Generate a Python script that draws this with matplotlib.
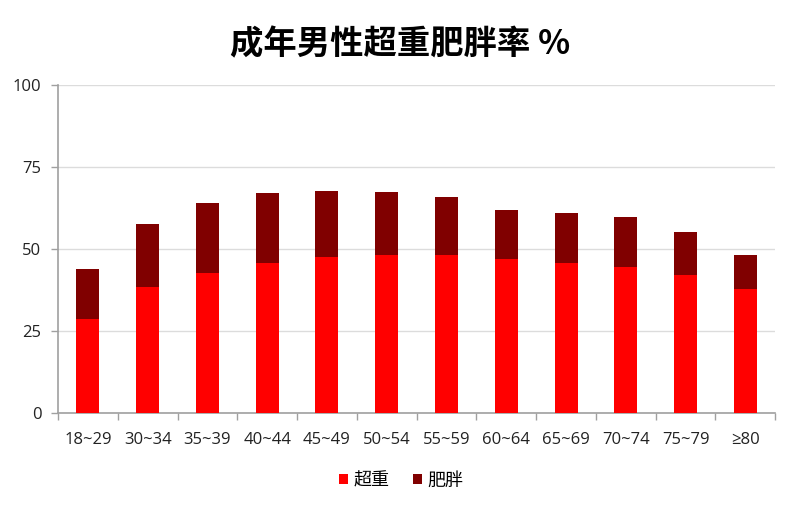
import numpy as np
import matplotlib
matplotlib.use("Agg")
import matplotlib.pyplot as plt
from matplotlib.patches import Patch

plt.rcParams['font.family'] = ['Noto Sans CJK SC', 'DejaVu Sans']

age_groups = ["18~29", "30~34", "35~39", "40~44", "45~49", "50~54",
              "55~59", "60~64", "65~69", "70~74", "75~79", "≥80"]
overweight = [28.6, 38.4, 42.7, 45.8, 47.6, 48.2, 48.2, 46.8, 45.8, 44.6, 42.1, 37.9]
obese = [15.2, 19.3, 21.3, 21.1, 20.1, 19.0, 17.6, 14.9, 15.1, 15.0, 13.0, 10.2]
yticks = [0, 25, 50, 75, 100]

red = "#ff0000"
dark = "#800000"
axis_gray = "#a0a0a0"
tick_font = ['Open Sans', 'DejaVu Sans']

fig = plt.figure(figsize=(8, 5.11), dpi=100)
ax = fig.add_axes([0.0725, 0.192, 0.8965, 0.642])

x = np.arange(len(age_groups))
w = 0.385
ax.bar(x, overweight, width=w, color=red, zorder=3)
ax.bar(x, obese, width=w, bottom=overweight, color=dark, zorder=3)

ax.set_xlim(-0.5, len(age_groups) - 0.5)
ax.set_ylim(0, 100)
ax.set_yticks(yticks)
ax.set_yticklabels([str(v) for v in yticks], fontsize=12, color="#222222",
                   family=tick_font)
ax.yaxis.grid(True, color="#dcdcdc", linewidth=1, zorder=0)

# category labels in the middle, tick marks on the boundaries
ax.set_xticks(x)
ax.set_xticklabels(age_groups, fontsize=12, color="#222222", family=tick_font)
ax.tick_params(axis='x', length=0, pad=14)
ax.set_xticks(np.arange(-0.5, len(age_groups)), minor=True)
ax.tick_params(axis='x', which='minor', length=5, color=axis_gray, width=1)
ax.tick_params(axis='y', length=5, color=axis_gray, width=1, pad=7)

for side in ['top', 'right']:
    ax.spines[side].set_visible(False)
for side in ['left', 'bottom']:
    ax.spines[side].set_color(axis_gray)
    ax.spines[side].set_linewidth(1.2)

fig.suptitle("成年男性超重肥胖率 %", fontsize=24, fontweight='bold', x=0.5, y=0.945)

handles = [Patch(facecolor=red, label="超重"), Patch(facecolor=dark, label="肥胖")]
fig.legend(handles=handles, loc='center', bbox_to_anchor=(0.502, 0.06), ncol=2,
           frameon=False, fontsize=13, handlelength=0.5, handleheight=0.5,
           handletextpad=0.3, columnspacing=1.3)

fig.savefig("out.png", dpi=100, facecolor="white")
